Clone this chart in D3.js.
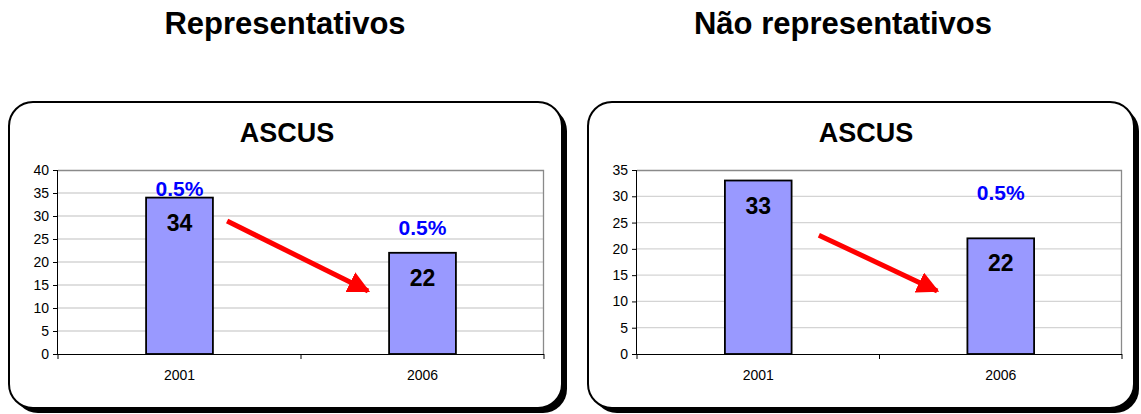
<!DOCTYPE html>
<html>
<head>
<meta charset="utf-8">
<script src="https://d3js.org/d3.v7.min.js"></script>
<style>
  body { margin: 0; background: #fff; }
  svg { display: block; font-family: "Liberation Sans", Arial, sans-serif; }
</style>
</head>
<body>
<div id="chart"></div>
<script>
// data
const headings = ["Representativos", "Não representativos"];
const chartTitles = ["ASCUS", "ASCUS"];
const years = ["2001", "2006"];
const countsRep = [34, 22];
const countsNonRep = [33, 22];
const pctRep = ["0.5%", "0.5%"];
const pctNonRep = [null, "0.5%"];
// where the blue % label sits, in y units
const pctAtRep = [34.3, 25.9];
const pctAtNonRep = [null, 29.3];
const yMaxRep = 40, yMaxNonRep = 35;
// arrow: [fraction of plot width, y value] start -> end
const arrowRep = [[0.348, 28.9], [0.638, 13.7]];
const arrowNonRep = [[0.375, 22.6], [0.619, 12.0]];

const svg = d3.select("#chart").append("svg")
  .attr("width", 1141).attr("height", 414);

svg.append("defs").append("marker")
  .attr("id", "head")
  .attr("viewBox", "0 0 10 10")
  .attr("refX", 9).attr("refY", 5)
  .attr("markerWidth", 4.4).attr("markerHeight", 4.4)
  .attr("markerUnits", "strokeWidth")
  .attr("orient", "auto")
  .append("path").attr("d", "M0,0L10,5L0,10z").attr("fill", "#ff0000");

function panel(p) {
  // heading over the box
  svg.append("text")
    .attr("x", p.headX).attr("y", 34)
    .attr("text-anchor", "middle")
    .style("font-size", "31px").style("font-weight", "bold")
    .text(p.heading);

  // rounded box with a drop shadow
  svg.append("rect")
    .attr("x", p.box.x + 5).attr("y", p.box.y + 5)
    .attr("width", p.box.w).attr("height", p.box.h)
    .attr("rx", 24).attr("fill", "#000");
  svg.append("rect")
    .attr("x", p.box.x).attr("y", p.box.y)
    .attr("width", p.box.w).attr("height", p.box.h)
    .attr("rx", 24).attr("fill", "#fff")
    .attr("stroke", "#000").attr("stroke-width", 2);

  svg.append("text")
    .attr("x", p.titleX).attr("y", 142)
    .attr("text-anchor", "middle")
    .style("font-size", "27px").style("font-weight", "bold")
    .text(p.title);

  const g = svg.append("g").attr("transform", `translate(${p.left},170)`);
  const w = p.right - p.left, h = 184;

  const x = d3.scaleBand().domain(years).range([0, w]).paddingInner(0).paddingOuter(0);
  const y = d3.scaleLinear().domain([0, p.yMax]).range([h, 0]);
  const fx = d3.scaleLinear().domain([0, 1]).range([0, w]);

  // gridlines
  g.append("g").selectAll("line")
    .data(y.ticks(p.yMax / 5).filter(d => d > 0 && d < p.yMax))
    .join("line")
    .attr("x1", 0).attr("x2", w)
    .attr("y1", d => y(d)).attr("y2", d => y(d))
    .attr("stroke", "#d4d4d4").attr("stroke-width", 1.3);

  // plot frame top/right
  g.append("path")
    .attr("d", `M0,0.5H${w - 0.5}V${h}`)
    .attr("fill", "none").attr("stroke", "#8a8a8a").attr("stroke-width", 1.3);

  const bw = x.bandwidth() * 0.275;
  g.selectAll("rect.bar")
    .data(p.counts)
    .join("rect")
    .attr("class", "bar")
    .attr("x", (d, i) => x(years[i]) + x.bandwidth() / 2 - bw / 2)
    .attr("y", d => y(d))
    .attr("width", bw)
    .attr("height", d => h - y(d))
    .attr("fill", "#9999ff")
    .attr("stroke", "#000").attr("stroke-width", 1.8);

  // counts inside the bars
  g.selectAll("text.cnt")
    .data(p.counts)
    .join("text")
    .attr("class", "cnt")
    .attr("x", (d, i) => x(years[i]) + x.bandwidth() / 2)
    .attr("y", d => y(d) + 33)
    .attr("text-anchor", "middle")
    .style("font-size", "23px").style("font-weight", "bold")
    .text(d => d);

  // percentages
  g.selectAll("text.pct")
    .data(p.pct.map((t, i) => ({ t, at: p.pctAt[i], cat: years[i] })).filter(d => d.t))
    .join("text")
    .attr("class", "pct")
    .attr("x", d => x(d.cat) + x.bandwidth() / 2)
    .attr("y", d => y(d.at))
    .attr("text-anchor", "middle")
    .attr("fill", "#0000ff")
    .style("font-size", "21px").style("font-weight", "bold")
    .text(d => d.t);

  // axes
  const ya = g.append("g")
    .call(d3.axisLeft(y).ticks(p.yMax / 5).tickSize(5).tickPadding(4));
  ya.select(".domain").attr("stroke", "#000").attr("d", `M-0.5,0V${h}`);
  ya.selectAll("text").style("font-size", "14px").attr("fill", "#000");

  const xa = g.append("g").attr("transform", `translate(0,${h})`)
    .call(d3.axisBottom(x).tickSize(0).tickPadding(16));
  xa.select(".domain").attr("stroke", "#000").attr("d", `M0,0.5H${w}`);
  xa.selectAll("text").style("font-size", "14px").attr("fill", "#000");
  xa.selectAll("line.sep")
    .data([0, w / 2, w])
    .join("line").attr("class", "sep")
    .attr("x1", d => d).attr("x2", d => d)
    .attr("y1", 0).attr("y2", 5)
    .attr("stroke", "#000");

  // red trend arrow
  g.append("line")
    .attr("x1", fx(p.arrow[0][0])).attr("y1", y(p.arrow[0][1]))
    .attr("x2", fx(p.arrow[1][0])).attr("y2", y(p.arrow[1][1]))
    .attr("stroke", "#ff0000").attr("stroke-width", 5)
    .attr("marker-end", "url(#head)");
}

panel({
  heading: headings[0], title: chartTitles[0], headX: 285, titleX: 287,
  box: { x: 9, y: 102, w: 553, h: 306 },
  left: 58, right: 544, yMax: yMaxRep,
  counts: countsRep, pct: pctRep, pctAt: pctAtRep, arrow: arrowRep
});
panel({
  heading: headings[1], title: chartTitles[1], headX: 843, titleX: 866,
  box: { x: 588, y: 102, w: 546, h: 306 },
  left: 637, right: 1122, yMax: yMaxNonRep,
  counts: countsNonRep, pct: pctNonRep, pctAt: pctAtNonRep, arrow: arrowNonRep
});
</script>
</body>
</html>
